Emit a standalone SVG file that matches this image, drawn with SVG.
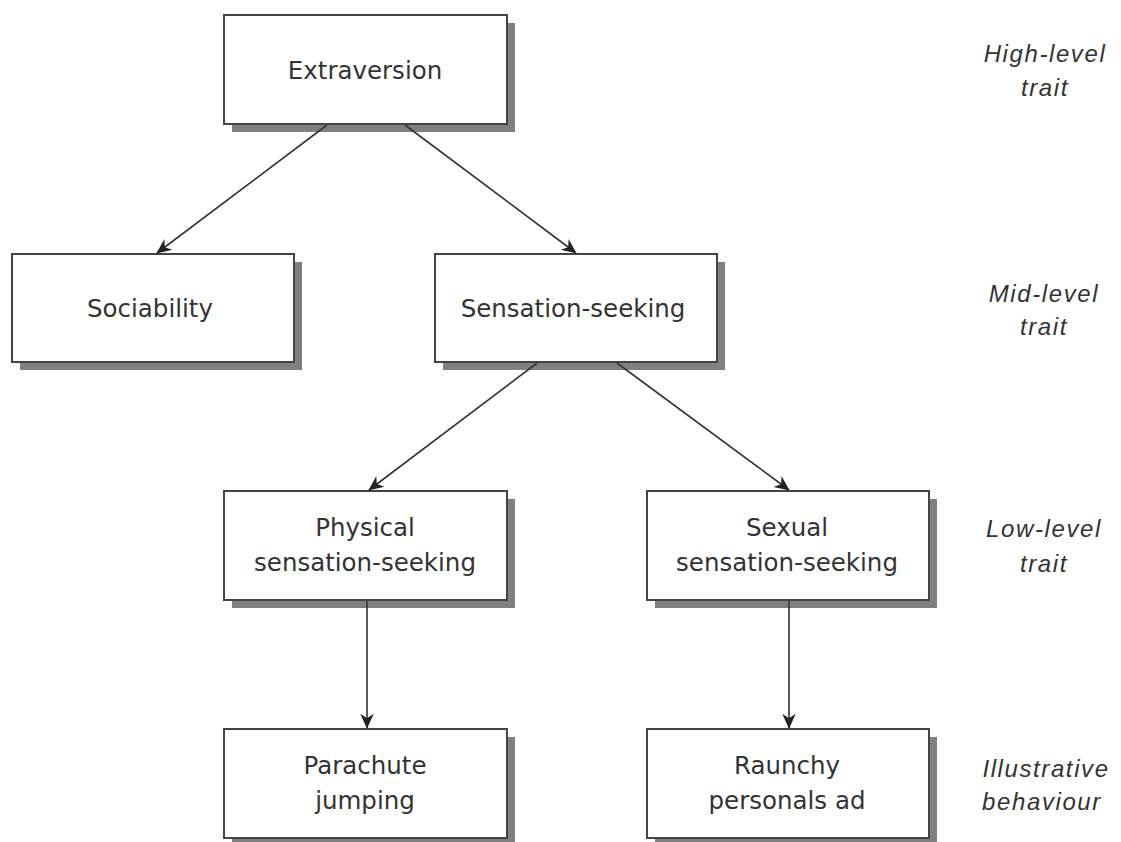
<svg xmlns="http://www.w3.org/2000/svg" width="1121" height="842" viewBox="0 0 1121 842">
<defs>
<style>
.shadow{fill:#808080;}
.box{fill:#fff;stroke:#444;stroke-width:2;}
.t{font-family:"DejaVu Sans",Verdana,sans-serif;font-size:24.5px;fill:#333;text-anchor:middle;}
.lvl{font-family:"Liberation Sans",Arial,sans-serif;font-size:24px;font-style:italic;fill:#333;text-anchor:middle;letter-spacing:1.6px;}
.c{stroke:#333;stroke-width:1.6;fill:none;marker-end:url(#ah);}
</style>
<marker id="ah" viewBox="0 0 10 10" refX="9.5" refY="5" markerWidth="15" markerHeight="15" markerUnits="userSpaceOnUse" orient="auto">
<path d="M0,0.5 L10,5 L0,9.5 L3,5 Z" fill="#222"/>
</marker>
</defs>
<rect width="1121" height="842" fill="#fff"/>
<g id="extraversion">
<rect class="shadow" x="232" y="23" width="283" height="109"/>
<rect class="box" x="224" y="15" width="283" height="109"/>
<text class="t" x="365" y="79">Extraversion</text>
</g>
<g id="sociability">
<rect class="shadow" x="20" y="262" width="282" height="108"/>
<rect class="box" x="12" y="254" width="282" height="108"/>
<text class="t" x="150" y="317">Sociability</text>
</g>
<g id="sensation-seeking">
<rect class="shadow" x="443" y="262" width="282" height="108"/>
<rect class="box" x="435" y="254" width="282" height="108"/>
<text class="t" x="573" y="317">Sensation-seeking</text>
</g>
<g id="physical">
<rect class="shadow" x="232" y="499" width="283" height="109"/>
<rect class="box" x="224" y="491" width="283" height="109"/>
<text class="t" x="365" y="536">Physical</text>
<text class="t" x="365" y="571">sensation-seeking</text>
</g>
<g id="sexual">
<rect class="shadow" x="655" y="499" width="282" height="109"/>
<rect class="box" x="647" y="491" width="282" height="109"/>
<text class="t" x="787" y="536">Sexual</text>
<text class="t" x="787" y="571">sensation-seeking</text>
</g>
<g id="parachute">
<rect class="shadow" x="232" y="737" width="283" height="109"/>
<rect class="box" x="224" y="729" width="283" height="109"/>
<text class="t" x="365" y="774">Parachute</text>
<text class="t" x="365" y="809">jumping</text>
</g>
<g id="raunchy">
<rect class="shadow" x="655" y="737" width="282" height="109"/>
<rect class="box" x="647" y="729" width="282" height="109"/>
<text class="t" x="787" y="774">Raunchy</text>
<text class="t" x="787" y="809">personals ad</text>
</g>
<g id="connectors">
<line class="c" x1="327" y1="125" x2="157" y2="253"/>
<line class="c" x1="405" y1="125" x2="576" y2="253"/>
<line class="c" x1="537" y1="363" x2="369" y2="490"/>
<line class="c" x1="617" y1="363" x2="789" y2="490"/>
<line class="c" x1="367" y1="601" x2="367" y2="728"/>
<line class="c" x1="789" y1="601" x2="789" y2="728"/>
</g>
<g id="levels">
<text class="lvl" x="1045" y="62">High-level</text>
<text class="lvl" x="1045" y="96">trait</text>
<text class="lvl" x="1044" y="302">Mid-level</text>
<text class="lvl" x="1044" y="335">trait</text>
<text class="lvl" x="1044" y="537">Low-level</text>
<text class="lvl" x="1044" y="572">trait</text>
<text class="lvl" x="1046" y="777">Illustrative</text>
<text class="lvl" x="1042" y="810">behaviour</text>
</g>
</svg>
